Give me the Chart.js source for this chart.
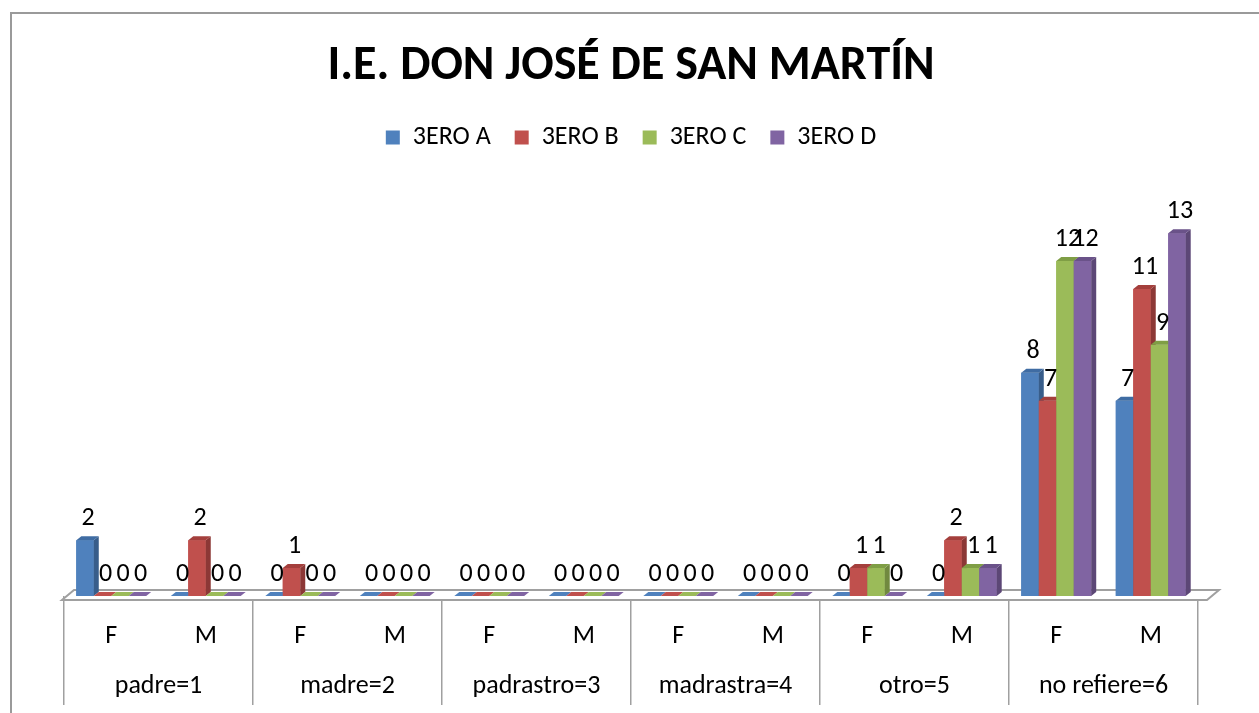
<!DOCTYPE html>
<html><head><meta charset="utf-8">
<script src="https://cdn.jsdelivr.net/npm/chart.js@4/dist/chart.umd.min.js"></script>
<style>
html,body{margin:0;padding:0;background:#fff;overflow:hidden;width:1259px;height:713px}
#frame{position:absolute;left:10px;top:12px;width:1300px;height:800px;border:2px solid #9a9a9a;box-sizing:border-box}
#wrap{position:absolute;left:0;top:0;width:1259px;height:713px}
</style></head><body>
<div id="frame"></div>
<div id="wrap"><canvas id="c" width="1259" height="713"></canvas></div>
<script>
const chartTitle = 'I.E. DON JOSÉ DE SAN MARTÍN';
const categories = ['F','M','F','M','F','M','F','M','F','M','F','M'];
const groups = ['padre=1','madre=2','padrastro=3','madrastra=4','otro=5','no refiere=6'];
const seriesNames = ['3ERO A','3ERO B','3ERO C','3ERO D'];
const tercA = [2,0,0,0,0,0,0,0,0,0,8,7];
const tercB = [0,2,1,0,0,0,0,0,1,2,7,11];
const tercC = [0,0,0,0,0,0,0,0,1,1,12,9];
const tercD = [0,0,0,0,0,0,0,0,0,1,12,13];
const colors = ['#4F81BD','#C0504D','#9BBB59','#8064A2'];
const sideColors = ['#385D8A','#8C3836','#71893F','#5C4776'];
const topColors = ['#3F6CA3','#A43F3C','#7F9E45','#6A5289'];
const FONT = 'Carlito, Calibri, Lato, sans-serif';
const DX = 5, DY = 4;

const threeD = {
  id: 'threeD',
  beforeDatasetsDraw(chart) {
    const ctx = chart.ctx, xs = chart.scales.x, ys = chart.scales.y;
    const y0 = ys.getPixelForValue(0);
    const l = xs.left - 2, r = xs.right + 9, yf = y0 + 4, dx = 12, dy = 10;
    ctx.save();
    ctx.beginPath();
    ctx.moveTo(l, yf); ctx.lineTo(r, yf); ctx.lineTo(r + dx, yf - dy); ctx.lineTo(l + dx, yf - dy);
    ctx.closePath();
    ctx.fillStyle = '#ffffff'; ctx.fill();
    ctx.strokeStyle = '#A0A0A0'; ctx.lineWidth = 2; ctx.stroke();
    ctx.restore();
  },
  afterDatasetsDraw(chart) {
    const ctx = chart.ctx;
    const n = chart.data.labels.length;
    const metas = chart.data.datasets.map((d, i) => chart.getDatasetMeta(i));
    ctx.save();
    for (let j = 0; j < n; j++) {
      metas.forEach((m, i) => {
        const el = m.data[j];
        el.draw(ctx);
        const w = el.width, L = el.x - w / 2, R = el.x + w / 2, T = el.y, B = el.base;
        if (B - T > 0.5) {
          ctx.fillStyle = sideColors[i];
          ctx.beginPath();
          ctx.moveTo(R, T); ctx.lineTo(R + DX, T - DY); ctx.lineTo(R + DX, B - DY); ctx.lineTo(R, B);
          ctx.closePath(); ctx.fill();
        }
        ctx.fillStyle = (B - T > 0.5) ? topColors[i] : colors[i];
        ctx.beginPath();
        ctx.moveTo(L, T); ctx.lineTo(L + DX, T - DY); ctx.lineTo(R + DX, T - DY); ctx.lineTo(R, T);
        ctx.closePath(); ctx.fill();
      });
    }
    ctx.font = '26px ' + FONT;
    ctx.fillStyle = '#000';
    ctx.textAlign = 'center';
    ctx.textBaseline = 'alphabetic';
    metas.forEach((m, i) => {
      m.data.forEach((el, j) => {
        const v = chart.data.datasets[i].data[j];
        ctx.fillText(String(v), el.x + 3, el.y - 15);
      });
    });
    ctx.restore();
  }
};

const datasets = [tercA, tercB, tercC, tercD].map((d, i) => ({
  label: seriesNames[i],
  data: d,
  backgroundColor: colors[i],
  borderWidth: 0,
  barPercentage: 1,
  categoryPercentage: 0.74
}));

new Chart(document.getElementById('c'), {
  type: 'bar',
  data: { labels: categories, datasets },
  plugins: [threeD],
  options: {
    responsive: false,
    animation: false,
    layout: { padding: { left: 64, right: 61, top: 0, bottom: 7 } },
    plugins: {
      title: { display: true, text: chartTitle, color: '#000',
        font: { family: FONT, size: 48, weight: 'bold' }, padding: { top: 38, bottom: 5 } },
      legend: { labels: { boxWidth: 14, boxHeight: 14, color: '#000',
        font: { family: FONT, size: 26 }, padding: 24 } },
      tooltip: { enabled: false }
    },
    scales: {
      y: { display: false, min: 0, max: 15.6 },
      x: {
        offset: true,
        grid: { offset: true, drawOnChartArea: false, tickLength: 62, lineWidth: 1.5,
          color: c => (c.index === undefined || c.index % 2 === 0) ? '#A0A0A0' : 'rgba(0,0,0,0)' },
        border: { display: false },
        ticks: { color: '#000', font: { family: FONT, size: 26 }, padding: -37, maxRotation: 0, autoSkip: false },
        afterFit: s => { s.height = 62; }
      },
      x2: {
        type: 'category', labels: groups, offset: true, position: 'bottom',
        grid: { offset: true, drawOnChartArea: false, tickLength: 47, lineWidth: 1.5, color: '#A0A0A0' },
        border: { display: false },
        ticks: { color: '#000', font: { family: FONT, size: 26 }, padding: -34, maxRotation: 0, autoSkip: false },
        afterFit: s => { s.height = 48; }
      }
    }
  }
});
</script>
</body></html>
